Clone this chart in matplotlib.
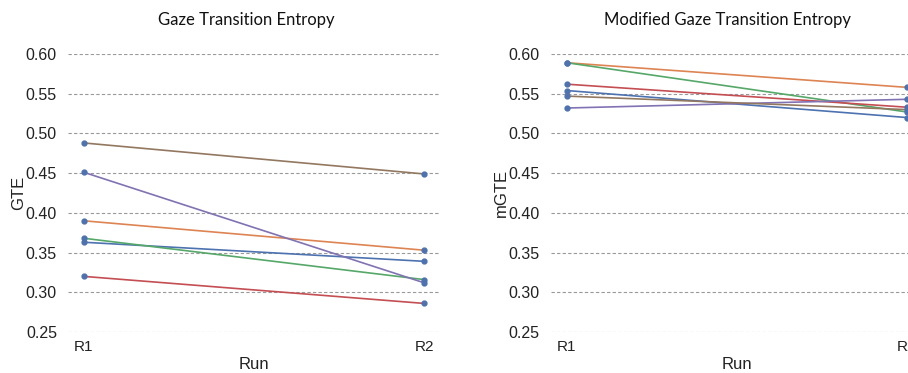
import matplotlib
matplotlib.use("Agg")
import matplotlib.pyplot as plt

runs = ["R1", "R2"]
participants = ["P1", "P2", "P3", "P4", "P5", "P6"]
colors = ["#4C72B0", "#DD8452", "#55A868", "#C44E52", "#8172B3", "#937860"]

gte_r1 = [0.363, 0.390, 0.368, 0.320, 0.451, 0.488]
gte_r2 = [0.339, 0.353, 0.316, 0.286, 0.312, 0.449]

mgte_r1 = [0.554, 0.589, 0.589, 0.562, 0.532, 0.547]
mgte_r2 = [0.520, 0.558, 0.527, 0.533, 0.543, 0.530]

yticks = [0.25, 0.30, 0.35, 0.40, 0.45, 0.50, 0.55, 0.60]

fig = plt.figure(figsize=(9.08, 3.73), dpi=100)
ax1 = fig.add_axes([0.0749, 0.1099, 0.4097, 0.7453])
ax2 = fig.add_axes([0.6068, 0.1099, 0.4097, 0.7453])

def draw(ax, r1, r2, ylabel):
    xs = list(range(len(runs)))
    for a, b, c in zip(r1, r2, colors):
        ax.plot(xs, [a, b], color=c, lw=1.2, zorder=2)
        ax.plot(xs, [a, b], ls="none", marker="o", ms=3.5, color="#4C72B0", zorder=3)
    ax.set_xlim(-0.047, 1.047)
    ax.set_ylim(0.25, 0.60)
    ax.set_yticks(yticks)
    ax.set_yticklabels([f"{v:.2f}" for v in yticks], fontsize=11.5,
                       family="Liberation Sans", color="#222222")
    ax.set_xticks(xs)
    ax.set_xticklabels(runs, fontsize=11, family="Liberation Sans", color="#222222")
    ax.tick_params(length=0)
    ax.tick_params(axis="x", pad=6)
    ax.tick_params(axis="y", pad=8)
    for s in ax.spines.values():
        s.set_visible(False)
    ax.grid(axis="y", color="#999999", ls=(0, (3, 2)), lw=0.8)
    ax.set_axisbelow(True)
    ax.set_xlabel("Run", fontsize=12, family="Liberation Sans", color="#222222", labelpad=2)
    ax.set_ylabel(ylabel, fontsize=12, family="Liberation Sans", color="#222222", labelpad=0)

draw(ax1, gte_r1, gte_r2, "GTE")
draw(ax2, mgte_r1, mgte_r2, "mGTE")

fig.text(246 / 908, 1 - 20 / 373, "Gaze Transition Entropy", ha="center", va="center",
         fontsize=12, family="Lato", color="#111111")
fig.text(727 / 908, 1 - 20 / 373, "Modified Gaze Transition Entropy", ha="center", va="center",
         fontsize=12, family="Lato", color="#111111")

fig.savefig("out.png", dpi=100)
